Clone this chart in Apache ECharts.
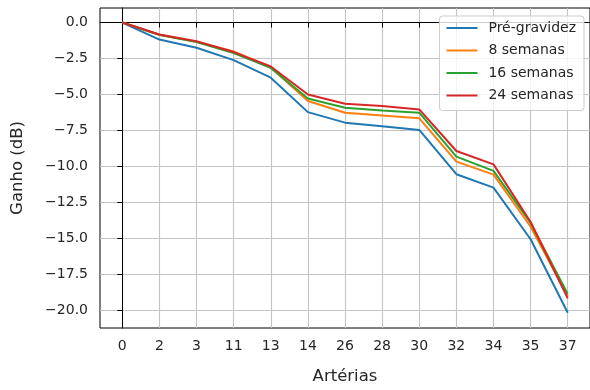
<!DOCTYPE html>
<html>
<head>
<meta charset="utf-8">
<script src="https://cdn.jsdelivr.net/npm/echarts@6/dist/echarts.min.js"></script>
<style>
  html, body { margin: 0; padding: 0; background: #fff; }
  #grafico { width: 590px; height: 390px; }
</style>
</head>
<body>
<div id="grafico"></div>
<script>
// artérias (categorias do eixo x)
var arterias = ['0', '2', '3', '11', '13', '14', '26', '28', '30', '32', '34', '35', '37'];

// ganho em dB por fase
var preGravidez = [0, -1.18, -1.75, -2.61, -3.83, -6.22, -6.95, -7.2, -7.46, -10.53, -11.46, -15.05, -20.15];
var semanas8   = [0, -0.86, -1.34, -2.0, -3.12, -5.45, -6.26, -6.45, -6.65, -9.66, -10.56, -14.18, -19.0];
var semanas16  = [0, -0.85, -1.35, -2.12, -3.15, -5.27, -5.91, -6.1, -6.26, -9.31, -10.3, -13.92, -18.85];
var semanas24  = [0, -0.83, -1.3, -2.05, -3.05, -5.0, -5.64, -5.8, -6.03, -8.92, -9.85, -13.85, -19.15];

var yTicks = [-20, -17.5, -15, -12.5, -10, -7.5, -5, -2.5, 0];

var nomes = ['Pré-gravidez', '8 semanas', '16 semanas', '24 semanas'];
var cores = ['#1f77b4', '#ff7f0e', '#2ca02c', '#d62728'];
var valores = [preGravidez, semanas8, semanas16, semanas24];

var myChart = echarts.init(document.getElementById('grafico'));

var xIdx = arterias.map(function (a, i) { return i; });

var series = nomes.map(function (nome, k) {
    return {
        name: nome,
        type: 'line',
        symbol: 'none',
        data: valores[k].map(function (v, i) { return [i, v]; }),
        lineStyle: { color: cores[k], width: 2 },
        itemStyle: { color: cores[k] },
        animation: false
    };
});

var fonte = 'DejaVu Sans';

var option = {
    backgroundColor: '#fff',
    grid: {
        left: 100,
        right: -1,
        top: 8,
        bottom: 61,
        show: true,
        borderColor: '#000',
        borderWidth: 1,
        containLabel: false
    },
    legend: {
        orient: 'vertical',
        right: 6,
        top: 16,
        itemWidth: 31,
        itemHeight: 14,
        itemGap: 8.5,
        padding: [5, 8, 8, 6],
        borderColor: '#cccccc',
        borderWidth: 1,
        borderRadius: 3,
        backgroundColor: 'rgba(255,255,255,0.8)',
        itemStyle: { opacity: 0 },
        lineStyle: { width: 2 },
        textStyle: { fontFamily: fonte, fontSize: 14, color: '#262626', padding: [0, 0, 0, 6] },
        data: nomes
    },
    xAxis: {
        type: 'value',
        min: -0.6,
        max: 12.6,
        name: 'Artérias',
        nameLocation: 'middle',
        nameGap: 40,
        nameTextStyle: { fontFamily: fonte, fontSize: 16.5, color: '#262626' },
        axisLine: { lineStyle: { color: '#000', width: 1 } },
        axisTick: { show: true, length: 5, customValues: xIdx, lineStyle: { color: '#000' } },
        axisLabel: {
            customValues: xIdx,
            margin: 11,
            fontFamily: fonte,
            fontSize: 14,
            color: '#262626',
            formatter: function (v) { return arterias[Math.round(v)]; }
        },
        splitLine: { show: true, customValues: xIdx, lineStyle: { color: '#c4c4c4', width: 1.1 } }
    },
    yAxis: {
        type: 'value',
        min: -21.21,
        max: 1.01,
        name: 'Ganho (dB)',
        nameLocation: 'middle',
        nameGap: 74,
        nameTextStyle: { fontFamily: fonte, fontSize: 16.5, color: '#262626' },
        axisLine: { show: true, lineStyle: { color: '#000', width: 1 } },
        axisTick: { show: true, length: 5, customValues: yTicks, lineStyle: { color: '#000' } },
        axisLabel: {
            customValues: yTicks,
            margin: 12,
            fontFamily: fonte,
            fontSize: 14,
            color: '#262626',
            formatter: function (v) { return v.toFixed(1).replace('-', '\u2212'); }
        },
        splitLine: { show: true, customValues: yTicks, lineStyle: { color: '#c4c4c4', width: 1.1 } }
    },
    series: series
};

myChart.setOption(option);
</script>
</body>
</html>
